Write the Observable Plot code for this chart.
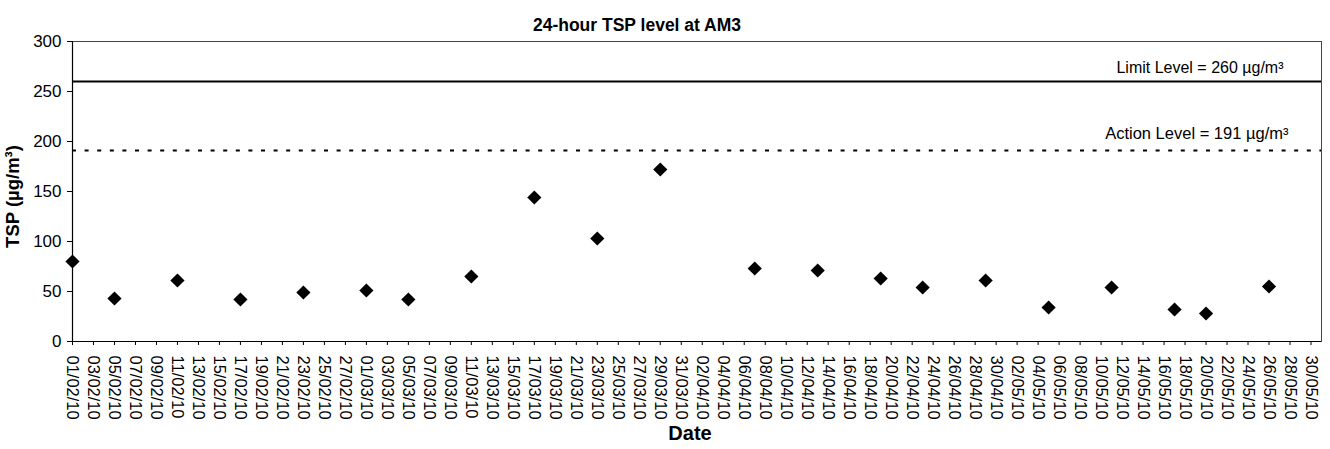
<!DOCTYPE html>
<html>
<head>
<meta charset="utf-8">
<script src="https://cdn.jsdelivr.net/npm/d3@7"></script>
<script src="https://cdn.jsdelivr.net/npm/@observablehq/plot@0.6"></script>
<style>
  html, body { margin: 0; padding: 0; background: #fff; }
  #chart svg { display: block; }
</style>
</head>
<body>
<div id="chart"></div>
<script>
// ---- data ----
const sampleDates = ["2010-02-01","2010-02-05","2010-02-11","2010-02-17","2010-02-23",
  "2010-03-01","2010-03-05","2010-03-11","2010-03-17","2010-03-23","2010-03-29",
  "2010-04-07","2010-04-13","2010-04-19","2010-04-23","2010-04-29",
  "2010-05-05","2010-05-11","2010-05-17","2010-05-20","2010-05-26"];
const tspValues = [80, 43, 61, 42, 49, 51, 42, 65, 144, 103, 172, 73, 71, 63, 54, 61, 34, 54, 32, 28, 55];
const yTicks = [0, 50, 100, 150, 200, 250, 300];
const xDomain = ["2010-02-01", "2010-05-31"];
const xTickStart = "2010-02-01", xTickEnd = "2010-05-31", xTickStep = 2;
const levels = [
  {name: "Limit", value: 260, label: "Limit Level = 260 µg/m³"},
  {name: "Action", value: 191, label: "Action Level = 191 µg/m³"}
];
const titleText = "24-hour TSP level at AM3";
const yLabel = "TSP (µg/m³)";
const xLabel = "Date";

// ---- build ----
const parse = d3.utcParse("%Y-%m-%d");
const data = sampleDates.map((d, i) => ({date: parse(d), tsp: tspValues[i]}));
const xTicks = d3.utcDay.range(parse(xTickStart), parse(xTickEnd), xTickStep);
const fmt = d3.utcFormat("%d/%m/%y");
const font = "'Liberation Sans', Arial, Helvetica, sans-serif";

const chart = Plot.plot({
  width: 1330,
  height: 449,
  marginLeft: 72,
  marginRight: 9,
  marginTop: 41,
  marginBottom: 108,
  style: {fontFamily: font, background: "#fff", color: "#000", overflow: "visible"},
  x: {type: "utc", domain: xDomain.map(parse)},
  y: {domain: [0, 300]},
  marks: [
    Plot.frame({stroke: "#444", strokeWidth: 1}),
    Plot.axisY({ticks: yTicks, tickSize: 5, tickPadding: 6, fontSize: 17, label: null}),
    Plot.axisX({ticks: xTicks, tickFormat: fmt, tickSize: 4, tickPadding: 10, tickRotate: 90, fontSize: 16.5, label: null}),
    Plot.ruleY([0], {stroke: "#000", strokeWidth: 1.2}),
    Plot.frame({anchor: "left", stroke: "#000", strokeWidth: 1.2}),
    Plot.ruleY(levels.filter(d => d.name === "Limit"), {y: "value", stroke: "#000", strokeWidth: 2.2}),
    Plot.ruleY(levels.filter(d => d.name === "Action"), {y: "value", stroke: "#000", strokeWidth: 2, strokeDasharray: "4,8.6"}),
    Plot.text(levels.filter(d => d.name === "Limit"), {y: "value", text: "label", frameAnchor: "right", textAnchor: "end", dx: -38, dy: -14, fontSize: 16}),
    Plot.text(levels.filter(d => d.name === "Action"), {y: "value", text: "label", frameAnchor: "right", textAnchor: "end", dx: -33, dy: -17, fontSize: 16.5}),
    Plot.dot(data, {x: "date", y: "tsp", symbol: "diamond2", r: 6.4, fill: "#000", stroke: "none"}),
    Plot.text([titleText], {frameAnchor: "top", dx: -60, dy: -23, fontSize: 17.5, fontWeight: "bold"}),
    Plot.text([yLabel], {frameAnchor: "left", textAnchor: "middle", rotate: -90, dx: -59, dy: 5, fontSize: 18.5, fontWeight: "bold"}),
    Plot.text([xLabel], {frameAnchor: "bottom", dx: -7, dy: 98, fontSize: 20, fontWeight: "bold"})
  ]
});
document.getElementById("chart").appendChild(chart);
</script>
</body>
</html>
